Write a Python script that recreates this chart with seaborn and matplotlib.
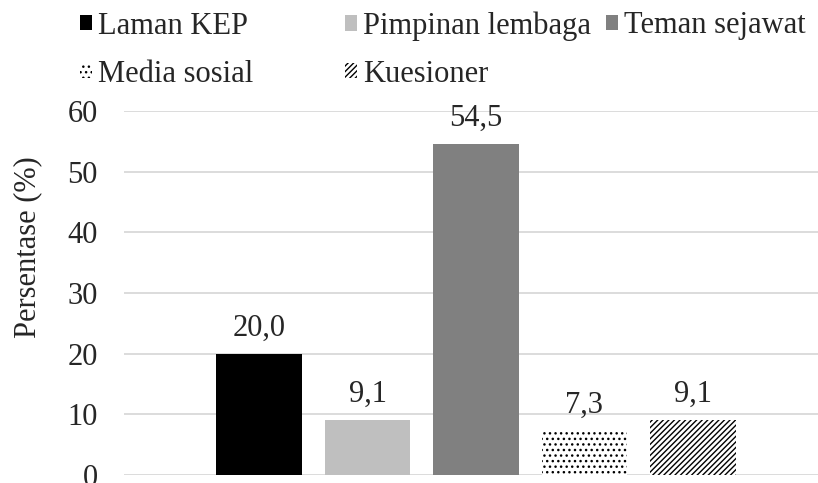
import matplotlib
matplotlib.use('Agg')
import matplotlib.pyplot as plt
import seaborn as sns
import pandas as pd

# data
sources = ['Laman KEP', 'Pimpinan lembaga', 'Teman sejawat', 'Media sosial', 'Kuesioner']
values = [20.0, 9.1, 54.5, 7.3, 9.1]
value_labels = ['20,0', '9,1', '54,5', '7,3', '9,1']
colors = ['#000000', '#bfbfbf', '#808080', '#ffffff', '#ffffff']
hatches = ['', '', '', '...', '//////']
yticks = [0, 10, 20, 30, 40, 50, 60]

sns.set_style('white')
plt.rcParams['font.family'] = ['Liberation Serif', 'DejaVu Serif']
plt.rcParams['hatch.linewidth'] = 1.0
fs = 22

df = pd.DataFrame({'grp': ['semua'] * len(sources), 'source': sources, 'value': values})

fig = plt.figure(figsize=(8.18, 4.83), dpi=100)
ax = fig.add_axes([124 / 818, 8 / 483, 704 / 818, 364 / 483])

sns.barplot(data=df, x='grp', y='value', hue='source', hue_order=sources,
            palette=colors, saturation=1, width=0.77, gap=0.21,
            legend=False, ax=ax)

# hatches + value labels
for cont, h, lab in zip(ax.containers, hatches, value_labels):
    for p in cont.patches:
        p.set_hatch(h)
        p.set_edgecolor('black')
        p.set_linewidth(0)
    ax.bar_label(cont, labels=[lab], padding=8, fontsize=fs, clip_on=False)

ax.set_ylim(0, 60)
ax.set_yticks(yticks)
ax.set_xticks([])
ax.set_xlabel('')
ax.yaxis.grid(True, color='#d9d9d9', lw=1.3)
ax.set_axisbelow(True)
for s in ax.spines.values():
    s.set_visible(False)
ax.tick_params(axis='y', labelsize=fs, length=0, pad=19)

ax.set_ylabel('Persentase (%)', fontsize=fs, va='center')
ax.yaxis.set_label_coords(28 / 818, 1 - 247 / 483, transform=fig.transFigure)

# legend: one entry each, placed like the original
leg_pos = [(80, 26), (345, 26), (606, 26), (80, 74), (345, 74)]
for cont, name, (lx, ly) in zip(ax.containers, sources, leg_pos):
    fig.legend([cont], [name], loc='center left', bbox_to_anchor=(lx / 818, 1 - ly / 483),
               frameon=False, fontsize=fs, handlelength=0.4, handleheight=0.4,
               handletextpad=0.2, borderpad=0, borderaxespad=0)

fig.savefig('out.png', dpi=100)
